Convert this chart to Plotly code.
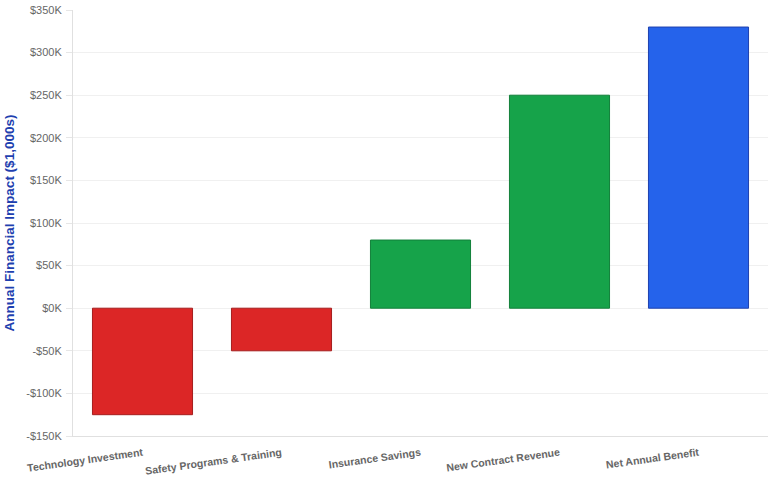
import plotly.graph_objects as go

categories = ["Technology Investment", "Safety Programs & Training", "Insurance Savings",
              "New Contract Revenue", "Net Annual Benefit"]
values = [-125000, -50000, 80000, 250000, 330000]
bar_colors = ["#dc2626", "#dc2626", "#16a34a", "#16a34a", "#2563eb"]
line_colors = ["#a51d1d", "#a51d1d", "#12803a", "#12803a", "#1e40af"]
tick_values = [-150000, -100000, -50000, 0, 50000, 100000, 150000, 200000, 250000, 300000, 350000]
tick_labels = ["-$150K", "-$100K", "-$50K", "$0K", "$50K", "$100K", "$150K", "$200K", "$250K", "$300K", "$350K"]

fig = go.Figure(go.Bar(
    x=categories, y=values,
    marker=dict(color=bar_colors, line=dict(color=line_colors, width=1)),
    width=0.72,
))

fig.update_layout(
    width=768, height=481,
    margin=dict(l=73, r=0, t=10, b=45),
    paper_bgcolor="white", plot_bgcolor="white",
    showlegend=False,
    font=dict(family="Liberation Sans, Arial, sans-serif"),
)
fig.update_xaxes(
    automargin=False,
    tickangle=-8,
    tickfont=dict(size=10.5, color="#666666", family="Liberation Sans, Arial, sans-serif", weight="bold"),
    ticklabelstandoff=6,
    showline=True, linecolor="#e0e0e0", linewidth=1,
    showgrid=False, ticks="",
)
fig.update_yaxes(
    automargin=False,
    range=[-150000, 350000],
    tickvals=tick_values, ticktext=tick_labels,
    tickfont=dict(size=11, color="#666666"),
    ticks="outside", ticklen=6, tickcolor="#e6e6e6", tickwidth=1,
    ticklabelstandoff=2,
    showgrid=True, gridcolor="#f0f0f0", gridwidth=1,
    zeroline=True, zerolinecolor="#f0f0f0", zerolinewidth=1,
    showline=True, linecolor="#e0e0e0", linewidth=1,
    title=dict(text="Annual Financial Impact ($1,000s)",
               font=dict(size=13.5, color="#1e40af", weight="bold"), standoff=8),
)

fig.write_html("out.html", config={"displayModeBar": False},
               post_script="document.body.style.margin='0';")
